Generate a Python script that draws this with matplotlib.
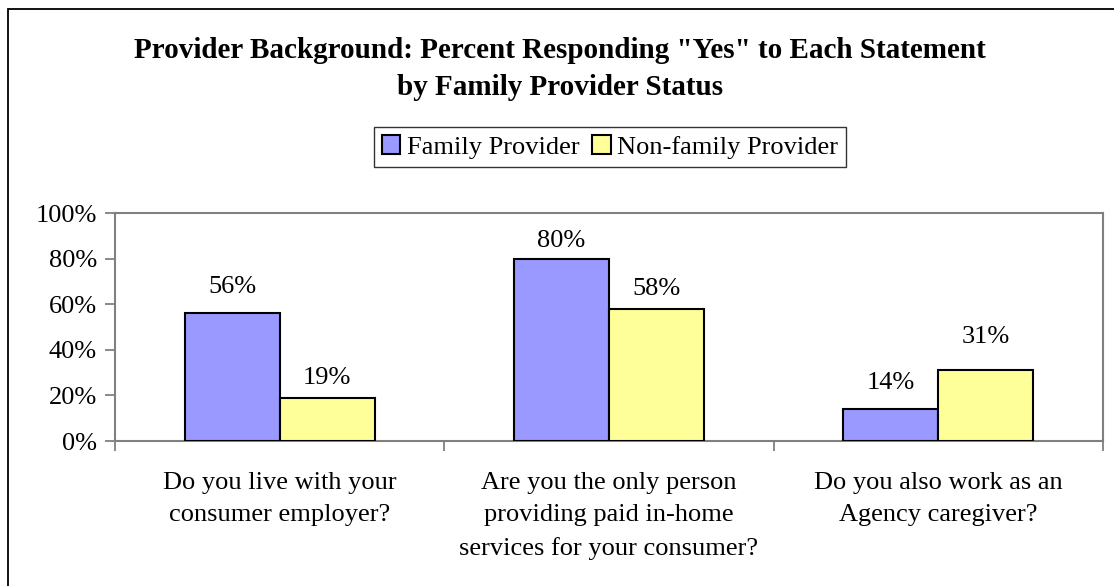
import numpy as np
import matplotlib.pyplot as plt
from matplotlib.patches import Rectangle

categories = [
    "Do you live with your\nconsumer employer?",
    "Are you the only person\nproviding paid in-home\nservices for your consumer?",
    "Do you also work as an\nAgency caregiver?",
]
series_names = ["Family Provider", "Non-family Provider"]
family = [56, 80, 14]
non_family = [19, 58, 31]
yticks = [0, 20, 40, 60, 80, 100]

colors = ["#9999FF", "#FFFF99"]
W, H = 1114, 586
FS = 19

# hand-placed label gaps above each bar (pixels, baseline to bar top)
gap_family = [20, 12, 20]
gap_non_family = [14, 14, 27]

plt.rcParams["font.family"] = ["Liberation Serif", "DejaVu Serif"]

fig = plt.figure(figsize=(W / 100, H / 100), dpi=100)
ax = fig.add_axes([115 / W, 1 - 441 / H, (1103 - 115) / W, (441 - 213) / H])

# outer chart border (runs off the right and bottom edges)
fig.patches.append(Rectangle((7.5 / W, -0.1), 1.2, 1 - 8.5 / H + 0.1,
                             transform=fig.transFigure, fill=False,
                             edgecolor="black", linewidth=1.3))

x = np.arange(len(categories))
bw = 0.288
b1 = ax.bar(x - bw / 2, family, bw, color=colors[0], edgecolor="black",
            linewidth=1.5, label=series_names[0], zorder=3)
b2 = ax.bar(x + bw / 2, non_family, bw, color=colors[1], edgecolor="black",
            linewidth=1.5, label=series_names[1], zorder=3)

for bars, vals, gaps in ((b1, family, gap_family),
                         (b2, non_family, gap_non_family)):
    for rect, v, g in zip(bars, vals, gaps):
        ax.annotate(f"{v}%", (rect.get_x() + rect.get_width() / 2, v),
                    xytext=(0, g * 0.72), textcoords="offset points",
                    ha="center", va="baseline", fontsize=FS)

ax.set_xlim(-0.5, len(categories) - 0.5)
ax.set_ylim(0, 100)
ax.set_yticks(yticks)
ax.set_yticklabels([f"{t}%" for t in yticks], fontsize=FS)
ax.set_xticks(np.arange(len(categories) + 1) - 0.5)
ax.set_xticklabels([])
ax.tick_params(axis="both", direction="out", length=7, color="#808080",
               width=1.3)
ax.tick_params(axis="y", pad=6)
for s in ax.spines.values():
    s.set_color("#808080")
    s.set_linewidth(1.5)

for i, lab in enumerate(categories):
    ax.text(i, -13.5, lab, ha="center", va="top", fontsize=FS,
            linespacing=1.6, transform=ax.transData)

fig.text(560 / W, 1 - 69 / H,
         'Provider Background: Percent Responding "Yes" to Each Statement\nby Family Provider Status',
         ha="center", va="center", fontsize=21, fontweight="bold",
         linespacing=1.45)

leg = fig.legend(loc="center", bbox_to_anchor=(610 / W, 1 - 147 / H),
                 ncol=2, fontsize=FS, frameon=True, fancybox=False,
                 handlelength=0.7, handleheight=0.7, handletextpad=0.25,
                 columnspacing=0.5, borderpad=0.3, borderaxespad=0)
leg.get_frame().set_edgecolor("black")
leg.get_frame().set_linewidth(1.0)

fig.savefig("out.png", dpi=100)
